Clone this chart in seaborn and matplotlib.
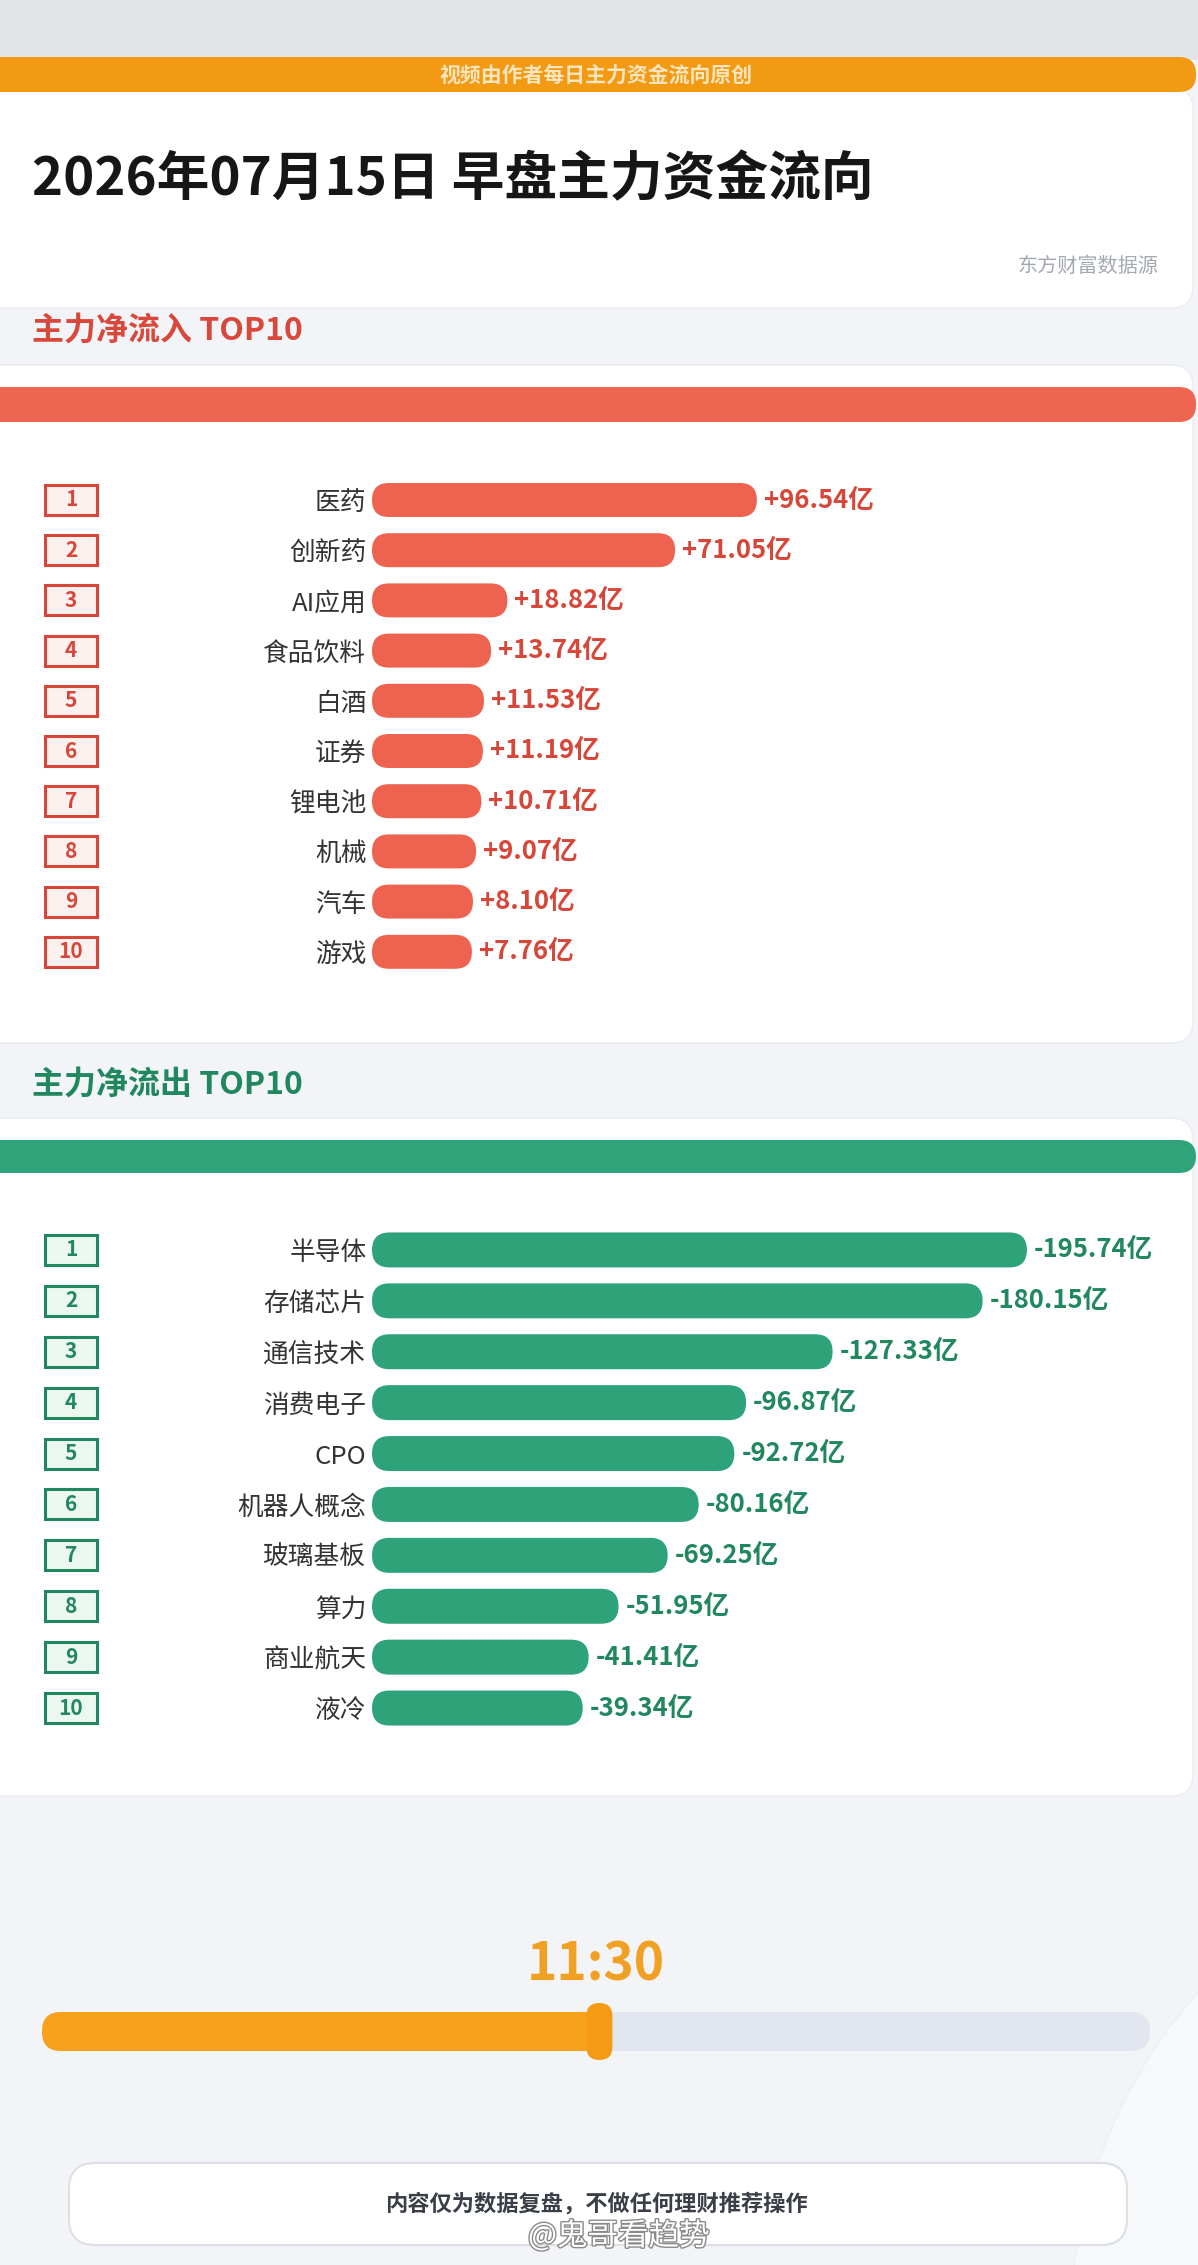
import numpy as np
import pandas as pd
import seaborn as sns
import matplotlib.pyplot as plt
import matplotlib.patheffects as pe
from matplotlib.patches import FancyBboxPatch, Rectangle, Circle

# ---- data (亿元) ----
inflow_names = ["医药", "创新药", "AI应用", "食品饮料", "白酒", "证券", "锂电池", "机械", "汽车", "游戏"]
inflow_values = [96.54, 71.05, 18.82, 13.74, 11.53, 11.19, 10.71, 9.07, 8.10, 7.76]
outflow_names = ["半导体", "存储芯片", "通信技术", "消费电子", "CPO", "机器人概念", "玻璃基板", "算力", "商业航天", "液冷"]
outflow_values = [-195.74, -180.15, -127.33, -96.87, -92.72, -80.16, -69.25, -51.95, -41.41, -39.34]
ranks = list(range(1, 11))

title_text = "2026年07月15日 早盘主力资金流向"
banner_text = "视频由作者每日主力资金流向原创"
source_text = "东方财富数据源"
inflow_title = "主力净流入 TOP10"
outflow_title = "主力净流出 TOP10"
time_label = "11:30"
session_progress = 0.513
footer_text = "内容仅为数据复盘，不做任何理财推荐操作"
watermark = "@鬼哥看趋势"

# ---- style ----
W, H = 1198, 2265
RED_BAR, RED_TXT = "#ED6350", "#D6473A"
GREEN_BAR, GREEN_TXT = "#2EA279", "#21875F"
ORANGE = "#F29A14"
BG = "#F2F4F7"

sns.set_theme(style="white")
plt.rcParams["font.family"] = ["Noto Sans CJK SC", "DejaVu Sans"]

fig = plt.figure(figsize=(W / 100, H / 100), dpi=100)
fig.patch.set_facecolor(BG)

bg = fig.add_axes([0, 0, 1, 1], zorder=0)
bg.set_xlim(0, W)
bg.set_ylim(H, 0)
bg.axis("off")


def card(x0, y0, x1, y1, fc, r, ec="none", lw=0, z=1):
    bg.add_patch(FancyBboxPatch((x0, y0), x1 - x0, y1 - y0,
                                boxstyle=f"round,pad=0,rounding_size={r}",
                                fc=fc, ec=ec, lw=lw, zorder=z))


def px_axes(left, top, right, bottom):
    return fig.add_axes([left / W, 1 - bottom / H, (right - left) / W, (bottom - top) / H], zorder=3)


# faint decoration bottom right
bg.add_patch(Circle((1580, 2330), 510, fc="#F6F8FA", ec="#ECEFF2", lw=0.8, zorder=0.5))

# header
bg.add_patch(Rectangle((0, 0), W, 60, fc="#E3E4E7", ec="none", zorder=0))
card(-30, 88, 1193, 308, "white", 22, ec="#E9ECEF", lw=1)
card(-30, 57, 1196, 92, ORANGE, 17, z=2)
bg.text(596, 75, banner_text, ha="center", va="center", fontsize=15, fontweight="bold", color="#FDE6BE", zorder=3)
bg.text(32, 180, title_text, ha="left", va="center", fontsize=38, fontweight="bold", color="#161616", zorder=3)
bg.text(1158, 266, source_text, ha="right", va="center", fontsize=14.5, color="#A4A9B1", zorder=3)

# section cards
bg.text(32, 331, inflow_title, ha="left", va="center", fontsize=23, fontweight="bold", color="#D8493C")
card(-30, 365, 1193, 1043, "white", 22, ec="#E9ECEF", lw=1)
card(-30, 387, 1196, 422, "#EE6552", 17, z=2)

bg.text(32, 1085, outflow_title, ha="left", va="center", fontsize=23, fontweight="bold", color=GREEN_TXT)
card(-30, 1118, 1193, 1796, "white", 22, ec="#E9ECEF", lw=1)
card(-30, 1140, 1196, 1173, "#2FA379", 17, z=2)


def draw_panel(names, values, top, row_h, bar_px, zero_px, px_per_unit, bar_color, text_color, box_fc):
    left_px = 372
    n = len(names)
    ax = px_axes(left_px, top, W, top + row_h * n)
    df = pd.DataFrame({"name": names, "value": np.abs(values)})
    sns.barplot(data=df, x="value", y="name", orient="h", color=bar_color,
                saturation=1, width=bar_px / row_h, ax=ax)
    x_lo = -(zero_px - left_px) / px_per_unit
    x_hi = x_lo + (W - left_px) / px_per_unit
    ax.set_xlim(x_lo, x_hi)
    ax.set_ylim(n - 0.5, -0.5)

    # turn the flat bars into pills that start at the panel edge
    aspect = px_per_unit / row_h
    r = bar_px / 2 / px_per_unit
    for rect in list(ax.patches):
        x_end = rect.get_x() + rect.get_width()
        ax.add_patch(FancyBboxPatch((x_lo, rect.get_y()), x_end - x_lo, rect.get_height(),
                                    boxstyle=f"round,pad=0,rounding_size={r}",
                                    mutation_aspect=aspect, fc=bar_color, ec="none"))
        rect.set_visible(False)

    ax.bar_label(ax.containers[0], labels=[f"{v:+.2f}亿" for v in values], padding=5,
                 color=text_color, fontsize=18.5, fontweight="bold")

    ax.set_xlabel("")
    ax.set_ylabel("")
    ax.tick_params(axis="y", length=0, pad=4, labelsize=18.5, labelcolor="#333333")
    ax.tick_params(axis="x", bottom=False, labelbottom=False)
    sns.despine(ax=ax, left=True, bottom=True)
    ax.patch.set_alpha(0)

    # rank boxes
    for i, rk in enumerate(ranks):
        yc = top + row_h * (i + 0.5)
        bg.add_patch(Rectangle((45, yc - 15), 52, 30, fc=box_fc, ec=text_color, lw=2.2, zorder=3))
        bg.text(71, yc, str(rk), ha="center", va="center", fontsize=15, fontweight="bold",
                color=text_color, zorder=4)


draw_panel(inflow_names, inflow_values, 474.9, 50.2, 34, 447, 3.21, RED_BAR, RED_TXT, "#FDF1EF")
draw_panel(outflow_names, outflow_values, 1224.5, 50.9, 35, 471, 2.84, GREEN_BAR, GREEN_TXT, "#EDF7F2")

# progress of the trading session
track_x0, track_x1 = 42, 1150
prog_x = track_x0 + session_progress * (track_x1 - track_x0)
card(track_x0, 2012, track_x1, 2051, "#E2E7EF", 19)
card(track_x0, 2012, prog_x, 2051, "#F7A11C", 19, z=2)
card(prog_x - 24, 2003, prog_x + 2, 2060, "#F59A12", 13, z=3)
bg.text(596, 1965, time_label, ha="center", va="center", fontsize=37, fontweight="bold", color="#F0A023")

# footer
card(69, 2163, 1127, 2245, "white", 26, ec="#DCDFE4", lw=1.5)
bg.text(596, 2204, footer_text, ha="center", va="center", fontsize=16, fontweight="bold", color="#3A3F47", zorder=3)
wm = bg.text(528, 2236, watermark, ha="left", va="center", fontsize=22, color="white", zorder=5)
wm.set_path_effects([pe.withStroke(linewidth=2, foreground="#8A8A8A")])

fig.savefig("out.png", dpi=100, facecolor=fig.get_facecolor())
